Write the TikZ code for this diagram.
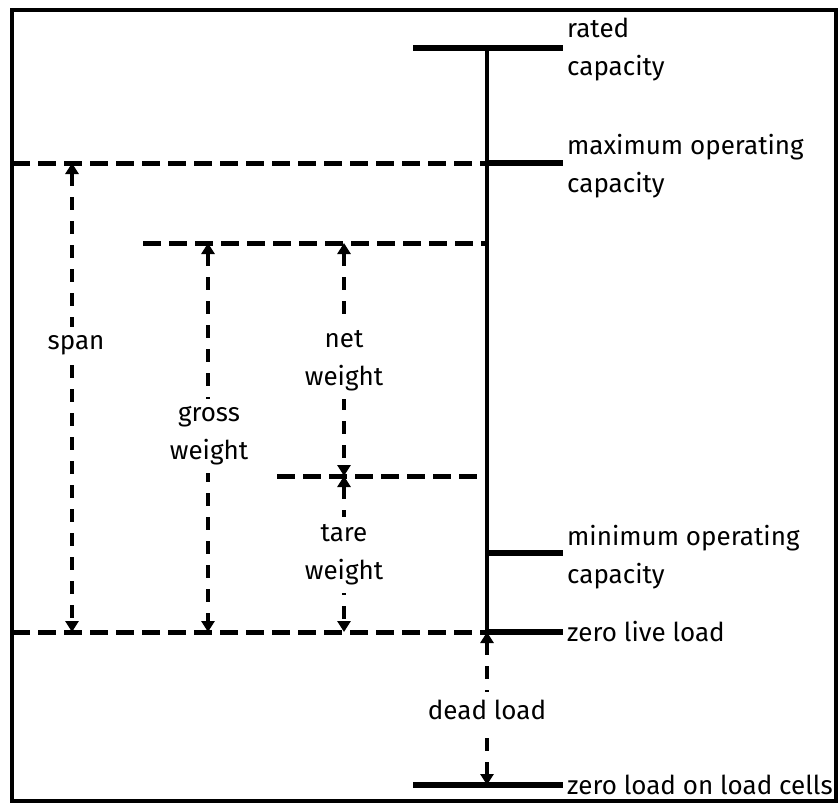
\documentclass[tikz,border=0pt]{standalone}
\usepackage{fontspec}
\setmainfont{Fira Sans}
\usetikzlibrary{arrows.meta}
\begin{document}
\begin{tikzpicture}[x=1pt,y=-1pt,
  bar/.style={line width=6pt},
  spine/.style={line width=4pt},
  dline/.style={line width=5pt,dash pattern=on 18pt off 8pt},
  dim/.style={line width=3.5pt,dash pattern=on 13pt off 11pt,{Triangle[width=13pt,length=11pt]}-{Triangle[width=13pt,length=11pt]}},
  lbl/.style={font=\fontsize{26}{38}\selectfont,align=left,anchor=west,inner sep=0pt},
  mid/.style={font=\fontsize{26}{38}\selectfont,align=center,fill=white,inner xsep=3pt,inner ysep=8pt}]
\useasboundingbox (0,0) rectangle (840,803);
\draw[line width=3.5pt] (12,10) rectangle (836,801);
% coordinates
\coordinate (rL) at (413,48); \coordinate (rR) at (563,48); \coordinate (rS) at (487,48);
\coordinate (mL) at (12,163); \coordinate (mS) at (487,163); \coordinate (mR) at (563,163);
\coordinate (gL) at (143,243); \coordinate (gS) at (487,243);
\coordinate (tL) at (277,476); \coordinate (tS) at (487,476);
\coordinate (nS) at (487,553); \coordinate (nR) at (563,553);
\coordinate (zL) at (12,632); \coordinate (zS) at (487,632); \coordinate (zR) at (563,632);
\coordinate (cL) at (413,785); \coordinate (cR) at (563,785); \coordinate (cS) at (487,785);
% solid
\draw[bar] (rL) -- (rR);
\draw[spine] (rS) -- (zS);
\draw[bar] (mS) -- (mR);
\draw[bar] (nS) -- (nR);
\draw[bar] (zS) -- (zR);
\draw[bar] (cL) -- (cR);
% dashed levels
\draw[dline] (mL) -- (mS);
\draw[dline] (gL) -- (gS);
\draw[dline] (tL) -- (tS);
\draw[dline] (zL) -- (zS);
% dimension arrows
\coordinate (s1) at (72,163); \coordinate (s2) at (72,632);
\coordinate (g1) at (208,243); \coordinate (g2) at (208,632);
\coordinate (n1) at (344,243); \coordinate (n2) at (344,476);
\coordinate (t1) at (344,476); \coordinate (t2) at (344,632);
\draw[dim] (s1) -- (s2);
\draw[dim] (g1) -- (g2);
\draw[dim] (n1) -- (n2);
\draw[dim] (t1) -- (t2);
\draw[dim] (zS) -- (cS);
% labels
\node[mid] (span) at (76,345) {span};
\node[mid] (gross) at (209,436) {gross\\weight};
\node[mid] (net) at (344,361) {net\\weight};
\node[mid] (tare) at (344,555) {tare\\weight};
\node[mid] (dead) at (487,710) {dead load};
\node[lbl] (rated) at (567,50) {rated\\capacity};
\node[lbl] (maxop) at (567,166) {maximum operating\\capacity};
\node[lbl] (minop) at (567,557) {minimum operating\\capacity};
\node[lbl] (zll) at (567,632) {zero live load};
\node[lbl] (zlc) at (567,785) {zero load on load cells};
\end{tikzpicture}
\end{document}
